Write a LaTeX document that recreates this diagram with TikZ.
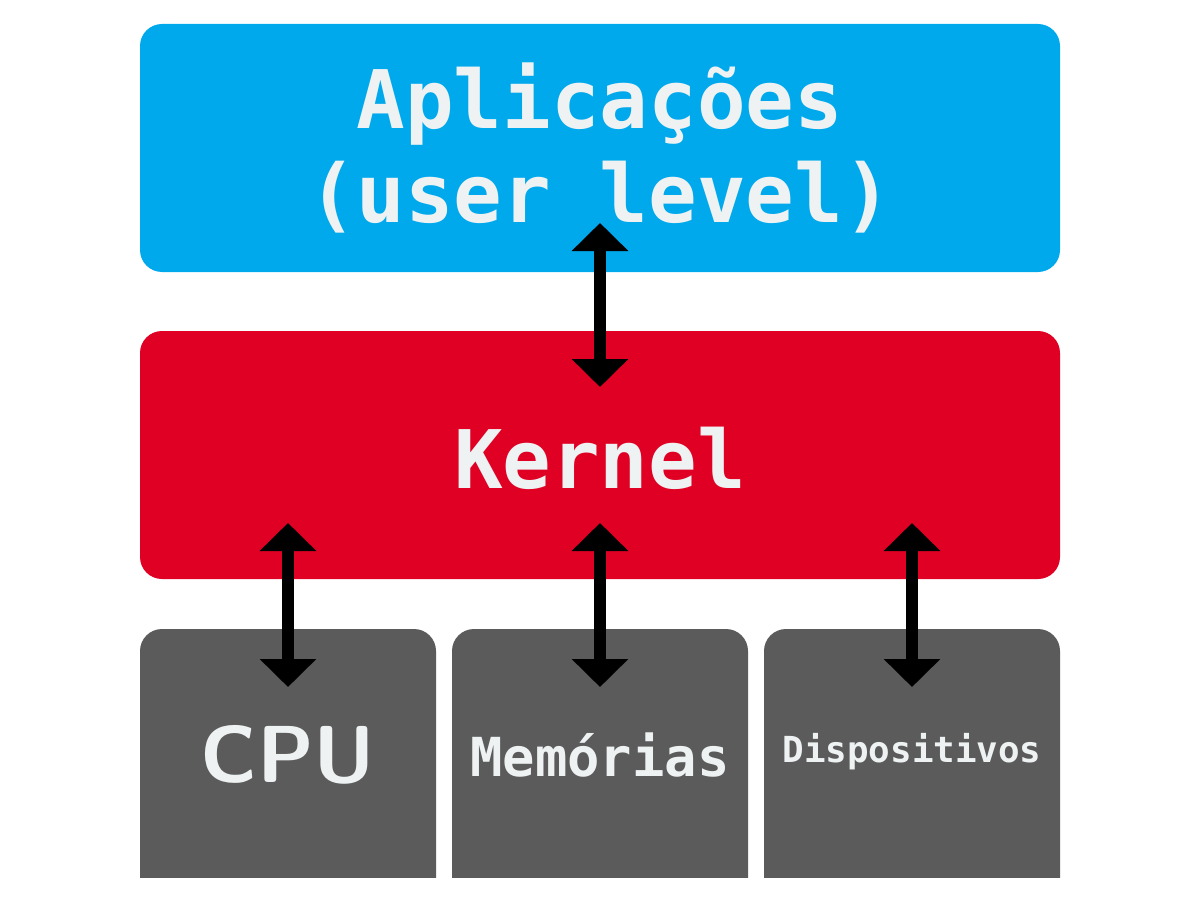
\documentclass[tikz,border=0pt]{standalone}
\usepackage{fontspec}
\setmonofont{DejaVu Sans Mono}
\usetikzlibrary{arrows.meta,positioning}
\definecolor{appblue}{HTML}{00A8EC}
\definecolor{kernelred}{HTML}{DF0024}
\definecolor{hwgray}{HTML}{5B5B5B}
\definecolor{textwhite}{HTML}{EEF2F3}
\tikzset{
  layer/.style={fill=#1, rounded corners=2.2mm, text=textwhite, font=\ttfamily\bfseries},
  link/.style={line width=1.2mm, {Triangle[width=5.5mm,length=2.8mm]}-{Triangle[width=5.5mm,length=2.8mm]}}
}
\begin{document}
\begin{tikzpicture}[x=0.1mm,y=-0.1mm]
				\useasboundingbox (0,0) rectangle (1200,900);
				% Draw layers
				\fill[appblue, rounded corners=2.2mm] (140,24) rectangle (1060,272);
				\node[text=textwhite, font=\fontsize{23}{27}\ttfamily\bfseries, align=center] (apps) at (600,148) {Aplicações\\(user level)};
				\fill[kernelred, rounded corners=2.2mm] (140,331) rectangle (1060,579);
				\node[text=textwhite, font=\fontsize{23}{27}\ttfamily\bfseries] (kernel) at (600,458) {Kernel};
				\fill[hwgray, rounded corners=2.2mm] (140,629) rectangle (436,900);
				\fill[hwgray, rounded corners=2.2mm] (452,629) rectangle (748,900);
				\fill[hwgray, rounded corners=2.2mm] (764,629) rectangle (1060,900);
				\fill[white] (0,878) rectangle (1200,900);
				\node[text=textwhite, font=\fontsize{23}{27}\sffamily\bfseries] (cpu) at (288,755) {CPU};
				\node[text=textwhite, font=\fontsize{15.3}{18}\ttfamily\bfseries] (mem) at (600,755) {Memórias};
				\node[text=textwhite, font=\fontsize{10.2}{12}\ttfamily\bfseries] (dev) at (912,752) {Dispositivos};
				
				% Arrow end points
				\coordinate (appsend) at (600,223);
				\coordinate (kerneltop) at (600,387);
				\foreach \name/\x in {cpu/288,mem/600,dev/912}{
					\coordinate (\name top) at (\x,523);
					\coordinate (\name end) at (\x,687);
				}
				
				% Draw links
				\draw[link] (appsend) -- (kerneltop);
				\draw[link] (cputop) -- (cpuend);
				\draw[link] (memtop) -- (memend);
				\draw[link] (devtop) -- (devend);
			\end{tikzpicture}
\end{document}
